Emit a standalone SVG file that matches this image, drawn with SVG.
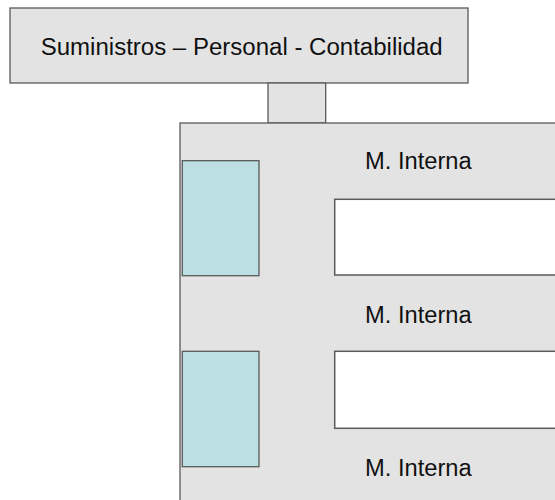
<svg xmlns="http://www.w3.org/2000/svg" width="555" height="500" viewBox="0 0 555 500">
<style>
.g{fill:#e3e3e3;stroke:#5a5a5a;stroke-width:1.3}
.c{fill:#bbdfe2;stroke:#5a5a5a;stroke-width:1.3}
.w{fill:#ffffff;stroke:#5a5a5a;stroke-width:1.5}
.t{font-family:"Liberation Sans",Arial,sans-serif;font-size:23px;fill:#111}
</style>
<rect width="555" height="500" fill="#ffffff"/>
<g id="top">
<rect class="g" x="10" y="8" width="458" height="75"/>
<text class="t" x="40.7" y="55" textLength="402" lengthAdjust="spacingAndGlyphs">Suministros – Personal - Contabilidad</text>
</g>
<g id="connectors">
<rect class="g" x="268" y="83" width="57.7" height="40"/>
</g>
<g id="main">
<rect class="g" x="180" y="123" width="390" height="390"/>
</g>
<g id="cyan1"><rect class="c" x="182.3" y="160.7" width="76.7" height="115"/></g>
<g id="cyan2"><rect class="c" x="182.3" y="351.3" width="76.7" height="115.4"/></g>
<g id="white1"><rect class="w" x="334.7" y="199.3" width="240" height="75.7"/></g>
<g id="white2"><rect class="w" x="334.7" y="351.3" width="240" height="77"/></g>
<g id="label1"><text class="t" x="365" y="169.3" textLength="106.7" lengthAdjust="spacingAndGlyphs">M. Interna</text></g>
<g id="label2"><text class="t" x="365" y="323.3" textLength="106.7" lengthAdjust="spacingAndGlyphs">M. Interna</text></g>
<g id="label3"><text class="t" x="365" y="475.7" textLength="106.7" lengthAdjust="spacingAndGlyphs">M. Interna</text></g>
</svg>
